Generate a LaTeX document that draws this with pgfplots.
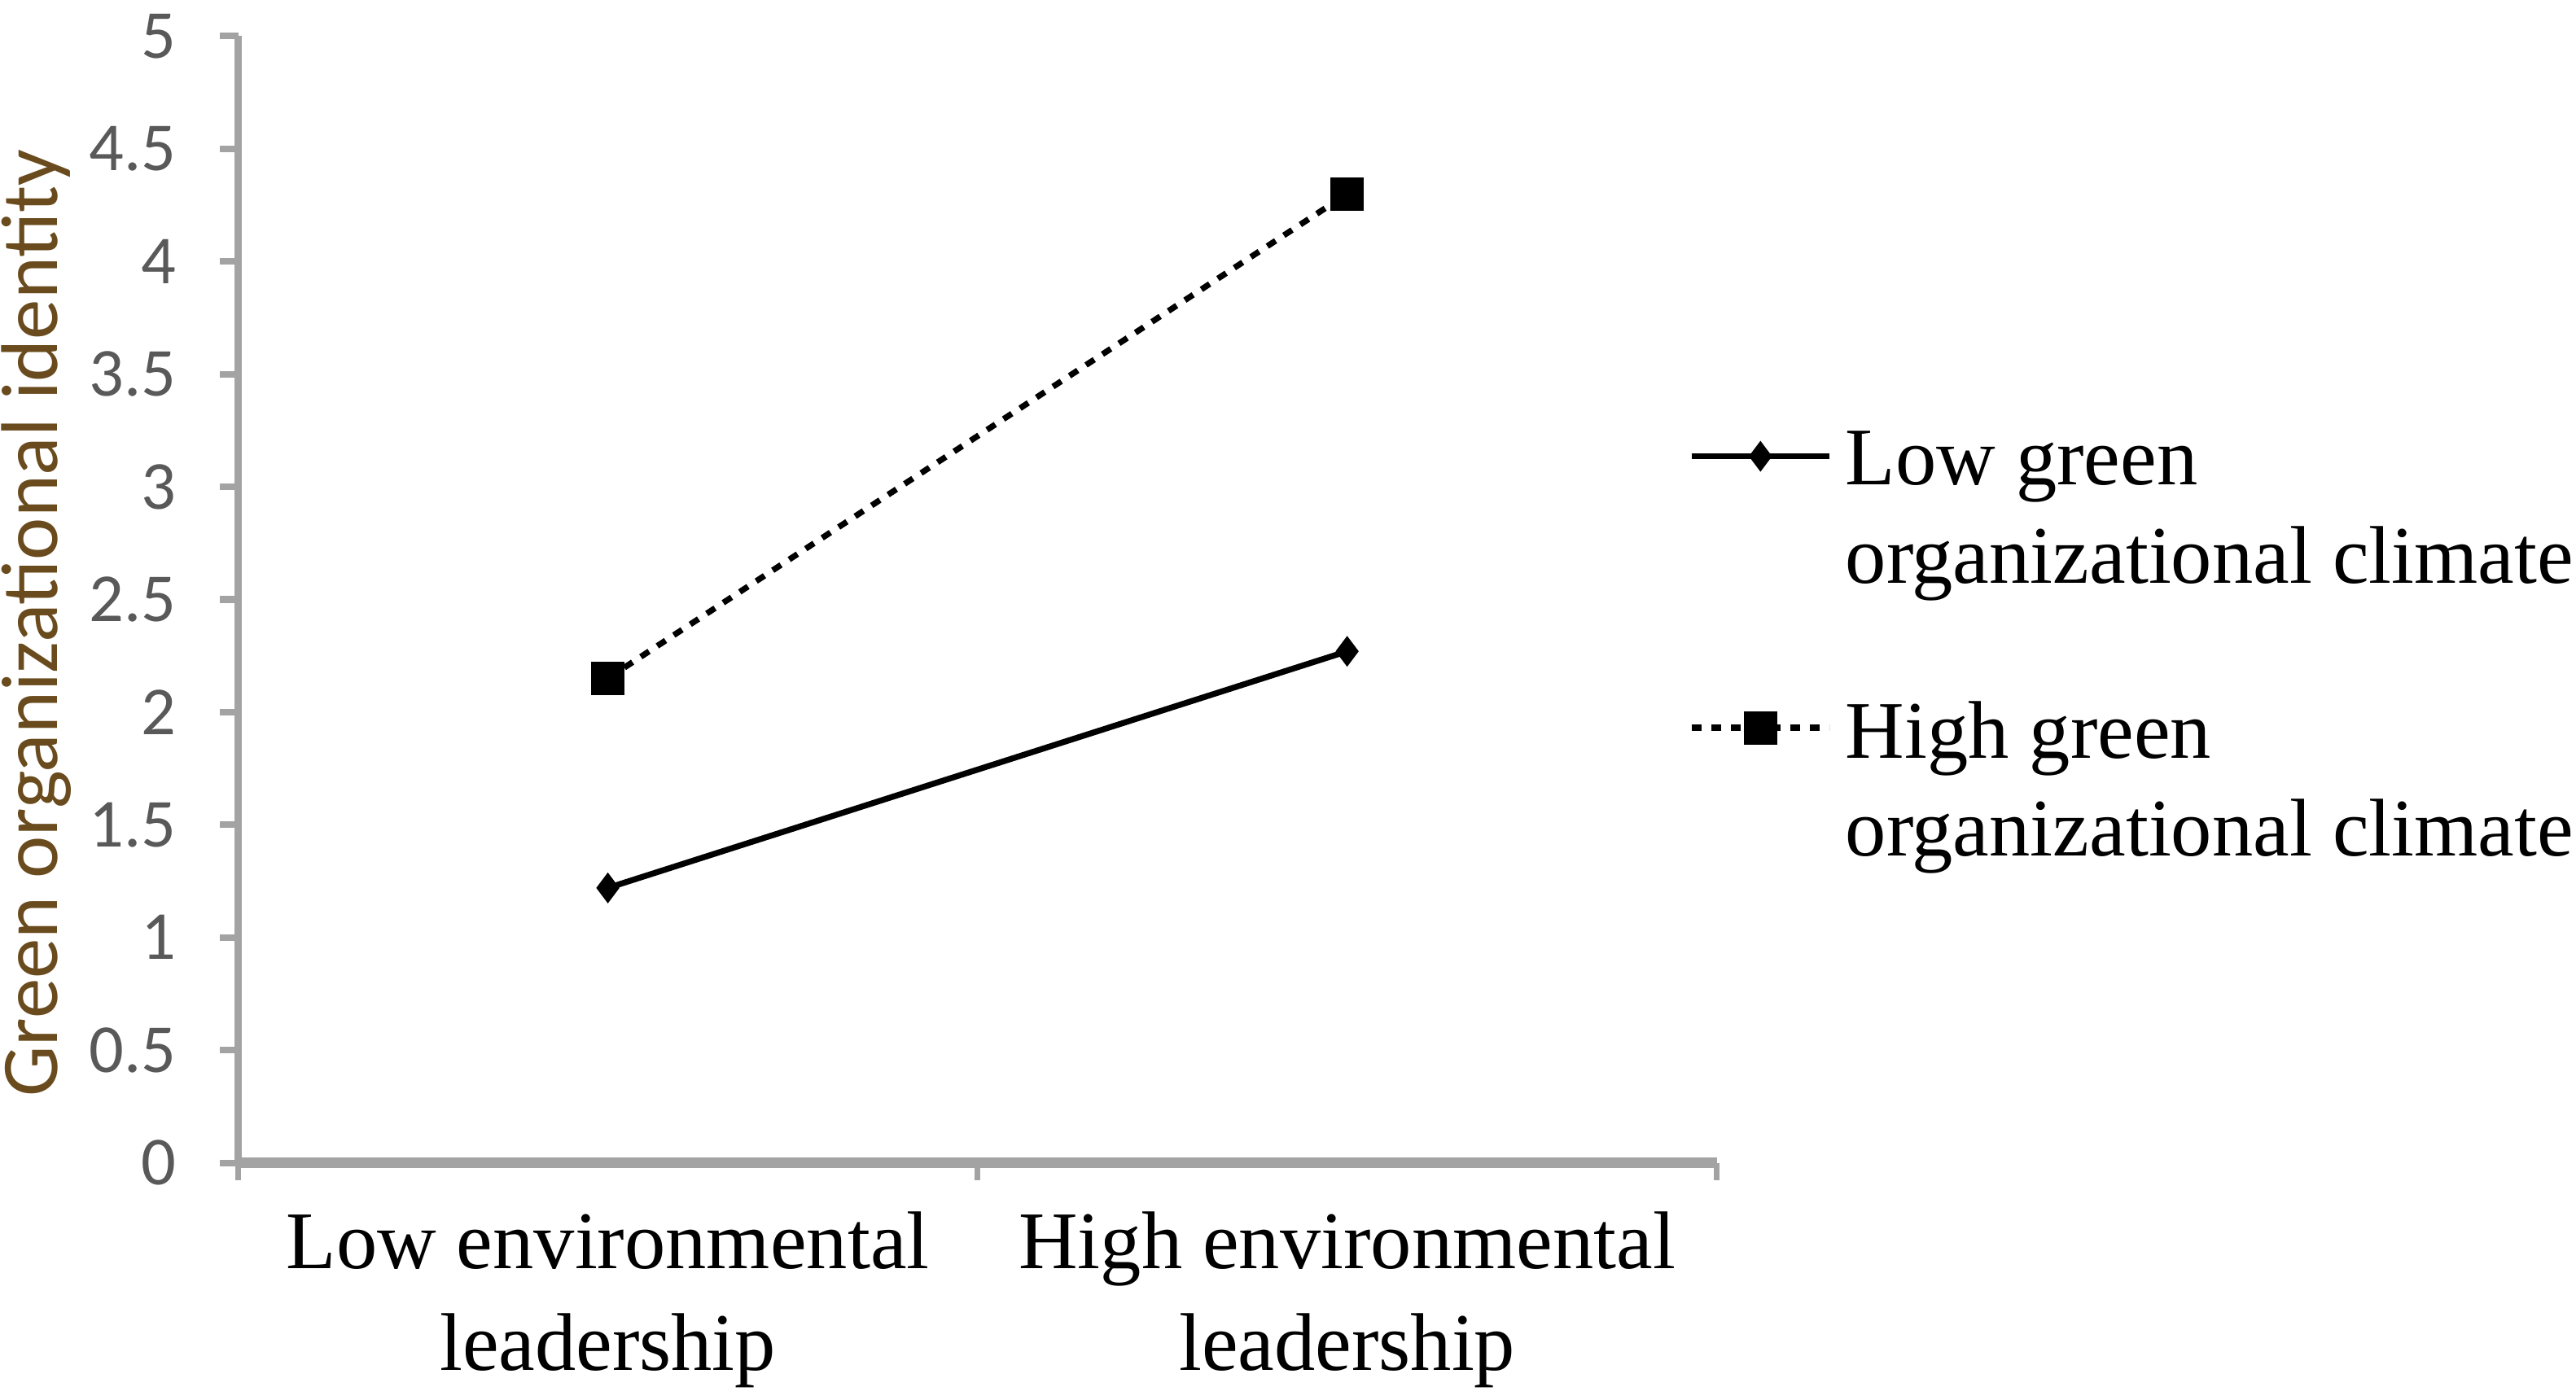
\documentclass[border=0pt]{standalone}
\usepackage{pgfplots}
\pgfplotsset{compat=1.18}
\usepackage{fontspec}
\setmainfont{Liberation Serif}
\newfontfamily\calfont{Carlito}
\definecolor{axgrey}{HTML}{A3A3A3}
\definecolor{tickgrey}{HTML}{595959}
\definecolor{ylab}{HTML}{6A4B1E}
\begin{document}
\begin{tikzpicture}
\useasboundingbox (-36.25bp,-36bp) rectangle (355.75bp,177bp);
\begin{axis}[
  at={(0,0)}, anchor=south west,
  scale only axis,
  width=225bp, height=171.5bp,
  xmin=-0.5, xmax=1.5,
  ymin=0, ymax=5,
  axis lines=left,
  axis line style={-, draw=axgrey},
  x axis line style={line width=1.6bp},
  y axis line style={line width=1.1bp},
  xtick={0,1},
  xticklabels={{Low environmental\\leadership},{High environmental\\leadership}},
  major x tick style={draw=none},
  minor xtick={-0.5,0.5,1.5},
  minor x tick style={draw=axgrey, line width=0.8bp},
  ytick={0,0.5,1,1.5,2,2.5,3,3.5,4,4.5,5},
  yticklabels={0,0.5,1,1.5,2,2.5,3,3.5,4,4.5,5},
  y tick style={draw=axgrey, line width=1bp},
  tick align=outside,
  major tick length=2.75bp,
  minor tick length=2.6bp,
  xticklabel style={font=\fontsize{12.5}{15.5}\selectfont, align=center, inner sep=0pt, yshift=-4.5bp, text=black},
  yticklabel style={font=\calfont\fontsize{10.5}{12}\selectfont, text=tickgrey, inner sep=0pt, anchor=east, xshift=-6.5bp},
  ylabel={Green organizational identity},
  ylabel style={font=\calfont\fontsize{12.3}{14}\selectfont, text=ylab, at={(axis description cs:-0.1367,0.479)}, anchor=center, rotate=0},
  clip=false,
  legend style={at={(axis description cs:0.98,0.662)}, anchor=north west, draw=none, fill=none,
    font=\fontsize{12.5}{15}\selectfont, inner sep=0pt, row sep=12.5bp,
    cells={anchor=west, align=left}},
  legend cell align=left,
  legend image code/.code={\draw[mark repeat=2,mark phase=2,#1] plot coordinates {(0bp,8.5bp) (10.5bp,8.5bp) (21bp,8.5bp)};},
]
\addplot[black, line width=0.9bp, mark=diamond*, mark size=1.6bp, mark options={solid}] coordinates {(0,1.22) (1,2.27)};
\addlegendentry{Low green\\organizational climate}
\addplot[black, line width=0.9bp, dash pattern=on 1.5bp off 1.5bp, mark=square*, mark size=2.1bp, mark options={solid}] coordinates {(0,2.15) (1,4.30)};
\addlegendentry{High green\\organizational climate}
\end{axis}
\end{tikzpicture}
\end{document}
